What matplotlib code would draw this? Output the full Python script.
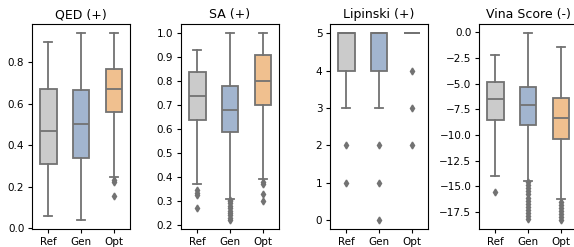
import matplotlib
matplotlib.use("Agg")
import matplotlib.pyplot as plt

groups = ["Ref", "Gen", "Opt"]
colors = ["#cbcbcb", "#a2b5cf", "#f0c08f"]
titles = ["QED (+)", "SA (+)", "Lipinski (+)", "Vina Score (-)"]

# per group: [whislo, q1, med, q3, whishi]
qed_box = [[0.06, 0.31, 0.47, 0.67, 0.90],
           [0.04, 0.34, 0.505, 0.665, 0.94],
           [0.25, 0.56, 0.67, 0.77, 0.94]]
qed_fliers = [[], [], [0.235, 0.225, 0.155]]

sa_box = [[0.37, 0.64, 0.74, 0.84, 0.93],
          [0.31, 0.59, 0.68, 0.78, 1.00],
          [0.39, 0.70, 0.80, 0.91, 1.00]]
sa_fliers = [[0.345, 0.335, 0.325, 0.27],
             [0.305, 0.30, 0.29, 0.28, 0.27, 0.26, 0.25, 0.24, 0.23, 0.22],
             [0.38, 0.37, 0.33, 0.30]]

lip_box = [[3, 4, 5, 5, 5],
           [3, 4, 5, 5, 5],
           [5, 5, 5, 5, 5]]
lip_fliers = [[2, 1], [2, 1, 0], [4, 3, 2]]

vina_box = [[-14.0, -8.5, -6.5, -4.8, -2.2],
            [-14.5, -9.0, -7.1, -5.3, -0.1],
            [-16.2, -10.4, -8.4, -6.4, -1.4]]
vina_fliers = [[-15.6],
               [-14.6, -14.9, -15.2, -15.5, -15.8, -16.1, -16.4, -16.7, -17.0,
                -17.3, -17.6, -17.9, -18.2],
               [-16.5, -16.8, -17.1, -17.4, -17.7, -18.0, -18.3]]

panels = [(qed_box, qed_fliers), (sa_box, sa_fliers),
          (lip_box, lip_fliers), (vina_box, vina_fliers)]

line_c = "#727272"
fig = plt.figure(figsize=(5.74, 2.47), dpi=100)
lefts = [32, 181, 330, 479]
for i, (boxes, fliers) in enumerate(panels):
    ax = fig.add_axes([lefts[i] / 574, 0.071, 98 / 574, 0.832])
    stats = []
    for g, b, f in zip(groups, boxes, fliers):
        stats.append(dict(label=g, whislo=b[0], q1=b[1], med=b[2], q3=b[3],
                          whishi=b[4], fliers=f))
    res = ax.bxp(stats, positions=range(3), widths=0.5, patch_artist=True,
                 boxprops=dict(edgecolor=line_c, linewidth=1.3),
                 whiskerprops=dict(color=line_c, linewidth=1.3),
                 capprops=dict(color=line_c, linewidth=1.3),
                 medianprops=dict(color=line_c, linewidth=1.3),
                 flierprops=dict(marker="d", markerfacecolor=line_c,
                                 markeredgecolor=line_c, markersize=3.5))
    for patch, c in zip(res["boxes"], colors):
        patch.set_facecolor(c)
    ax.set_xlim(-0.5, 2.5)
    ax.set_title(titles[i], fontsize=9, pad=4)
    ax.tick_params(labelsize=7.5, length=3, pad=2.5)
    if i == 2:
        ax.set_yticks([0, 1, 2, 3, 4, 5])

fig.savefig("out.png", dpi=100)
